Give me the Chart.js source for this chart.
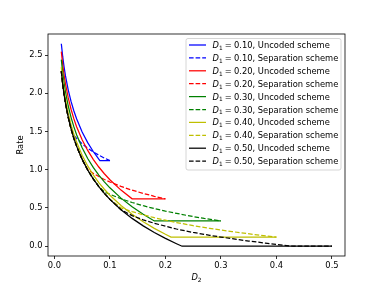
<!DOCTYPE html>
<html><head><meta charset="utf-8">
<script src="https://cdn.jsdelivr.net/npm/chart.js@4"></script>
<style>html,body{margin:0;padding:0;background:#fff;}canvas{display:block;}</style>
</head><body>
<canvas id="c" width="384" height="288" style="width:384px;height:288px"></canvas>
<script>
// ---- data ----
const d1Labels = ['0.10', '0.20', '0.30', '0.40', '0.50'];
const schemeNames = ['Uncoded scheme', 'Separation scheme'];
const xTicks = [0, 0.1, 0.2, 0.3, 0.4, 0.5];
const yTicks = [0, 0.5, 1.0, 1.5, 2.0, 2.5];

const d2UncBlue = [0.0125,0.015,0.0175,0.02,0.025,0.03,0.035,0.04,0.05,0.06,0.07,0.08,0.082,0.1];
const rateUncBlue = [2.648,2.479,2.343,2.228,2.042,1.894,1.772,1.667,1.495,1.355,1.239,1.138,1.12,1.12];
const d2SepBlue = [0.0125,0.015,0.0175,0.02,0.025,0.03,0.035,0.04,0.05,0.06,0.07,0.08,0.09,0.1];
const rateSepBlue = [2.289,2.121,1.984,1.870,1.684,1.536,1.453,1.411,1.34,1.282,1.233,1.191,1.153,1.12];

const d2UncRed = [0.0125,0.015,0.0175,0.02,0.025,0.03,0.035,0.04,0.05,0.06,0.07,0.08,0.09,0.1,0.12,0.14,0.2];
const rateUncRed = [2.545,2.377,2.240,2.125,1.939,1.792,1.669,1.564,1.392,1.253,1.136,1.036,0.948,0.869,0.734,0.62,0.62];
const d2SepRed = [0.0125,0.015,0.0175,0.02,0.025,0.03,0.035,0.04,0.05,0.06,0.07,0.08,0.09,0.1,0.12,0.14,0.16,0.18,0.2];
const rateSepRed = [2.289,2.121,1.984,1.870,1.684,1.536,1.413,1.309,1.136,1.002,0.953,0.911,0.873,0.84,0.782,0.733,0.691,0.653,0.62];

const d2UncGreen = [0.0125,0.015,0.0175,0.02,0.025,0.03,0.035,0.04,0.05,0.06,0.07,0.08,0.09,0.1,0.12,0.14,0.16,0.18,0.3];
const rateUncGreen = [2.440,2.271,2.135,2.020,1.834,1.686,1.564,1.459,1.287,1.147,1.031,0.930,0.842,0.764,0.629,0.515,0.417,0.33,0.33];
const d2SepGreen = [0.0125,0.015,0.0175,0.02,0.025,0.03,0.035,0.04,0.05,0.06,0.07,0.08,0.09,0.1,0.12,0.14,0.16,0.18,0.2,0.24,0.27,0.3];
const rateSepGreen = [2.289,2.121,1.984,1.870,1.684,1.536,1.413,1.309,1.136,0.997,0.880,0.780,0.712,0.679,0.621,0.572,0.530,0.492,0.459,0.401,0.363,0.33];

const d2UncYellow = [0.0125,0.015,0.0175,0.02,0.025,0.03,0.035,0.04,0.05,0.06,0.07,0.08,0.09,0.1,0.12,0.14,0.16,0.18,0.2,0.21,0.4];
const rateUncYellow = [2.343,2.174,2.038,1.923,1.737,1.589,1.467,1.362,1.190,1.050,0.934,0.833,0.745,0.667,0.532,0.418,0.320,0.233,0.156,0.12,0.12];
const d2SepYellow = [0.0125,0.015,0.0175,0.02,0.025,0.03,0.035,0.04,0.05,0.06,0.07,0.08,0.09,0.1,0.12,0.14,0.16,0.18,0.2,0.22,0.25,0.28,0.32,0.36,0.4];
const rateSepYellow = [2.289,2.121,1.984,1.870,1.684,1.536,1.413,1.309,1.136,0.997,0.880,0.780,0.692,0.613,0.502,0.453,0.411,0.373,0.34,0.31,0.269,0.233,0.191,0.153,0.12];

const d2UncBlack = [0.0125,0.015,0.0175,0.02,0.025,0.03,0.035,0.04,0.05,0.06,0.07,0.08,0.09,0.1,0.12,0.14,0.16,0.18,0.2,0.22,0.23,0.5];
const rateUncBlack = [2.289,2.121,1.984,1.870,1.684,1.536,1.413,1.309,1.136,0.997,0.880,0.780,0.692,0.613,0.478,0.364,0.266,0.180,0.102,0.033,0,0];
const d2SepBlack = [0.0125,0.015,0.0175,0.02,0.025,0.03,0.035,0.04,0.05,0.06,0.07,0.08,0.09,0.1,0.12,0.14,0.16,0.18,0.2,0.22,0.25,0.28,0.3,0.32,0.35,0.38,0.4,0.43,0.5];
const rateSepBlack = [2.289,2.121,1.984,1.870,1.684,1.536,1.413,1.309,1.136,0.997,0.880,0.780,0.692,0.613,0.478,0.40,0.345,0.30,0.262,0.225,0.18,0.142,0.12,0.098,0.068,0.041,0.024,0,0];

// ---- styling ----
const colors = ['#0000ff', '#ff0000', '#008000', '#bfbf00', '#000000'];
const FONT = '"DejaVu Sans", "Liberation Sans", sans-serif';
const FS = 8.33;

const series = [
  [d2UncBlue, rateUncBlue, d2SepBlue, rateSepBlue],
  [d2UncRed, rateUncRed, d2SepRed, rateSepRed],
  [d2UncGreen, rateUncGreen, d2SepGreen, rateSepGreen],
  [d2UncYellow, rateUncYellow, d2SepYellow, rateSepYellow],
  [d2UncBlack, rateUncBlack, d2SepBlack, rateSepBlack]
];
const pts = (xs, ys) => xs.map((x, i) => ({x: x, y: ys[i]}));
const datasets = [];
series.forEach((s, i) => {
  datasets.push({label: 'D1 = ' + d1Labels[i] + ', ' + schemeNames[0], data: pts(s[0], s[1]),
    borderColor: colors[i], borderWidth: 1.25, borderDash: [], dash: false});
  datasets.push({label: 'D1 = ' + d1Labels[i] + ', ' + schemeNames[1], data: pts(s[2], s[3]),
    borderColor: colors[i], borderWidth: 1.25, borderDash: [4.6, 2], dash: true});
});
datasets.forEach((d, i) => {
  d.order = datasets.length - i;
  d.showLine = true; d.pointRadius = 0; d.tension = 0; d.fill = false;
  d.borderCapStyle = 'butt';
});

function drawMath(ctx, x, y, sub, rest) {
  // italic D with subscript, then rest
  ctx.font = 'italic ' + FS + 'px ' + FONT;
  ctx.fillText('D', x, y); x += ctx.measureText('D').width;
  ctx.font = (FS * 0.7) + 'px ' + FONT;
  ctx.fillText(sub, x, y + 1.8); x += ctx.measureText(sub).width;
  if (rest) {
    ctx.font = FS + 'px ' + FONT;
    x += 2.2;
    ctx.fillText('=', x, y); x += ctx.measureText('=').width + 2.2;
    ctx.fillText(rest, x, y);
  }
}
function mathWidth(ctx, sub) {
  ctx.font = 'italic ' + FS + 'px ' + FONT;
  let w = ctx.measureText('D').width;
  ctx.font = (FS * 0.7) + 'px ' + FONT;
  return w + ctx.measureText(sub).width;
}

const decor = {
  id: 'decor',
  afterDatasetsDraw(chart) {
    const {ctx, chartArea: a} = chart;
    ctx.save();
    // frame
    ctx.strokeStyle = '#000'; ctx.lineWidth = 0.8;
    ctx.strokeRect(a.left, a.top, a.right - a.left, a.bottom - a.top);
    // x axis title
    ctx.fillStyle = '#000'; ctx.textBaseline = 'alphabetic'; ctx.textAlign = 'left';
    const cx = (a.left + a.right) / 2;
    const w = mathWidth(ctx, '2');
    drawMath(ctx, cx - w / 2, a.bottom + 24, '2', null);
    // legend
    const bw = 155, bh = 131.5;
    const bx = a.right - 4 - bw, by = a.top + 4.5;
    ctx.beginPath();
    ctx.roundRect(bx, by, bw, bh, 2);
    ctx.fillStyle = 'rgba(255,255,255,0.8)'; ctx.fill();
    ctx.strokeStyle = '#cccccc'; ctx.lineWidth = 0.8; ctx.stroke();
    datasets.forEach((d, i) => {
      const yc = by + 6.5 + i * 12.9;
      ctx.beginPath();
      ctx.strokeStyle = d.borderColor; ctx.lineWidth = 1.25;
      ctx.setLineDash(d.dash ? [4.6, 2] : []);
      ctx.moveTo(bx + 3, yc); ctx.lineTo(bx + 20, yc); ctx.stroke();
      ctx.setLineDash([]);
      ctx.fillStyle = '#000';
      drawMath(ctx, bx + 26.5, yc + 3, '1', d1Labels[i >> 1] + ', ' + schemeNames[i % 2]);
    });
    ctx.restore();
  }
};

const tickFont = {family: FONT, size: FS};
new Chart(document.getElementById('c'), {
  type: 'scatter',
  data: {datasets: datasets},
  options: {
    responsive: false, animation: false, devicePixelRatio: 1,
    layout: {padding: {top: 34, right: 39, left: 0, bottom: 0}},
    plugins: {legend: {display: false}, tooltip: {enabled: false}},
    scales: {
      x: {
        type: 'linear', min: -0.0115, max: 0.5235,
        afterBuildTicks: s => { s.ticks = xTicks.map(v => ({value: v})); },
        afterFit: s => { s.height = 32; },
        ticks: {callback: v => v.toFixed(1), font: tickFont, color: '#000', padding: 2, maxRotation: 0, autoSkip: false},
        grid: {display: true, drawOnChartArea: false, drawTicks: true, tickLength: 3, color: '#000', lineWidth: 0.8},
        border: {display: false}
      },
      y: {
        type: 'linear', min: -0.128, max: 2.776,
        afterBuildTicks: s => { s.ticks = yTicks.map(v => ({value: v})); },
        afterFit: s => { s.width = 48; },
        ticks: {callback: v => v.toFixed(1), font: tickFont, color: '#000', padding: 2.5, autoSkip: false},
        grid: {display: true, drawOnChartArea: false, drawTicks: true, tickLength: 3, color: '#000', lineWidth: 0.8},
        border: {display: false},
        title: {display: true, text: 'Rate', font: tickFont, color: '#000', padding: {top: 15.5, bottom: 0}}
      }
    }
  },
  plugins: [decor]
});
</script>
</body></html>
